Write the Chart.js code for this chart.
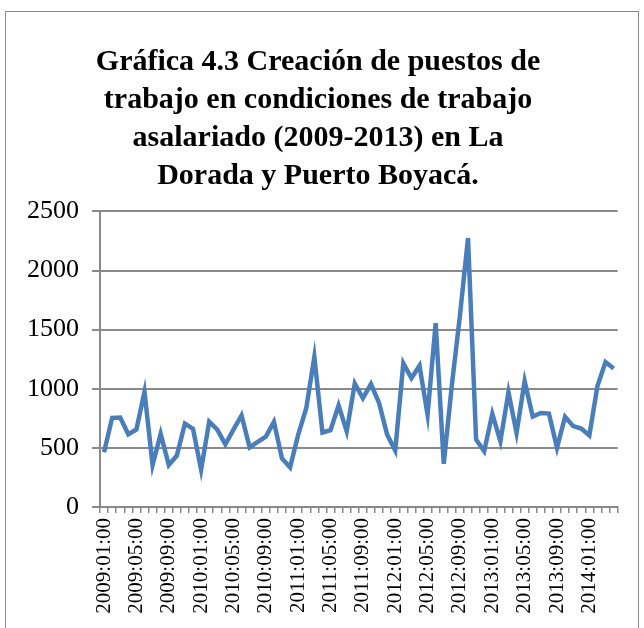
<!DOCTYPE html>
<html>
<head>
<meta charset="utf-8">
<script src="https://cdn.jsdelivr.net/npm/chart.js@4"></script>
<style>
	html, body { margin: 0; padding: 0; background: #fff; }
	#frame { position: absolute; left: 5px; top: 11px; width: 634px; height: 700px; border: 1.5px solid #8a8a8a; box-sizing: border-box; }
	#wrap { position: absolute; left: 0; top: 0; width: 644px; height: 628px; }
</style>
</head>
<body>
<div id="frame"></div>
<div id="wrap"><canvas id="chart"></canvas></div>
<script>
// Months 2009:01 .. 2014:04
const years = [2009, 2010, 2011, 2012, 2013, 2014];
const months = ['01', '02', '03', '04', '05', '06', '07', '08', '09', '10', '11', '12'];
const lastYearMonths = 4;

const puestos = [
	463, 754, 757, 615, 655, 975, 355, 620, 355, 435, 706, 661,
	315, 722, 655, 530, 655, 775, 505, 550, 595, 720, 410, 335,
	610, 835, 1270, 630, 650, 860, 640, 1045, 920, 1040, 880, 612,
	478, 1215, 1090, 1195, 780, 1555, 365, 1030, 1620, 2275, 570, 472,
	788, 556, 970, 627, 1065, 765, 795, 790, 500, 763, 684, 664,
	605, 1023, 1226, 1172
];

const yTicks = [0, 500, 1000, 1500, 2000, 2500];

const titleLines = [
	'Gráfica 4.3 Creación de puestos de',
	'trabajo en condiciones de trabajo',
	'asalariado (2009-2013) en La',
	'Dorada y Puerto Boyacá.'
];

const labels = [];
years.forEach((y, i) => {
	const n = i === years.length - 1 ? lastYearMonths : 12;
	for (let m = 0; m < n; m++) labels.push(y + ':' + months[m] + ':00');
});

const serif = "'Liberation Serif', 'Times New Roman', serif";

new Chart(document.getElementById('chart'), {
	type: 'line',
	data: {
		labels: labels,
		datasets: [{
			data: puestos,
			borderColor: '#4a7ebb',
			borderWidth: 4.5,
			pointRadius: 0,
			tension: 0,
			fill: false
		}]
	},
	options: {
		responsive: true,
		maintainAspectRatio: false,
		animation: false,
		layout: { padding: { left: 16, right: 24, top: 0, bottom: 0 } },
		plugins: {
			legend: { display: false },
			tooltip: { enabled: false },
			title: {
				display: true,
				text: titleLines,
				color: '#000',
				font: { family: serif, size: 30, weight: 'bold', lineHeight: 1.27 },
				padding: { top: 43, bottom: 16 }
			}
		},
		scales: {
			x: {
				offset: true,
				grid: {
					offset: true,
					drawOnChartArea: false,
					drawTicks: true,
					tickLength: 6,
					color: '#8a8a8a',
					lineWidth: 1.5
				},
				border: { color: '#8a8a8a', width: 2 },
				ticks: {
					autoSkip: false,
					maxRotation: 90,
					minRotation: 90,
					padding: 5,
					color: '#000',
					font: { family: serif, size: 21 },
					callback: function (v, i) { return i % 4 === 0 ? this.getLabelForValue(v) : ''; }
				},
				afterFit: s => { s.height = 121; }
			},
			y: {
				min: yTicks[0],
				max: yTicks[yTicks.length - 1],
				afterBuildTicks: s => { s.ticks = yTicks.map(v => ({ value: v })); },
				grid: { color: '#8a8a8a', lineWidth: 2, tickLength: 8 },
				border: { color: '#8a8a8a', width: 2 },
				ticks: {
					color: '#000',
					padding: 13,
					font: { family: serif, size: 26 },
					callback: v => String(v)
				},
				afterFit: s => { s.width = 84; }
			}
		}
	}
});
</script>
</body>
</html>
